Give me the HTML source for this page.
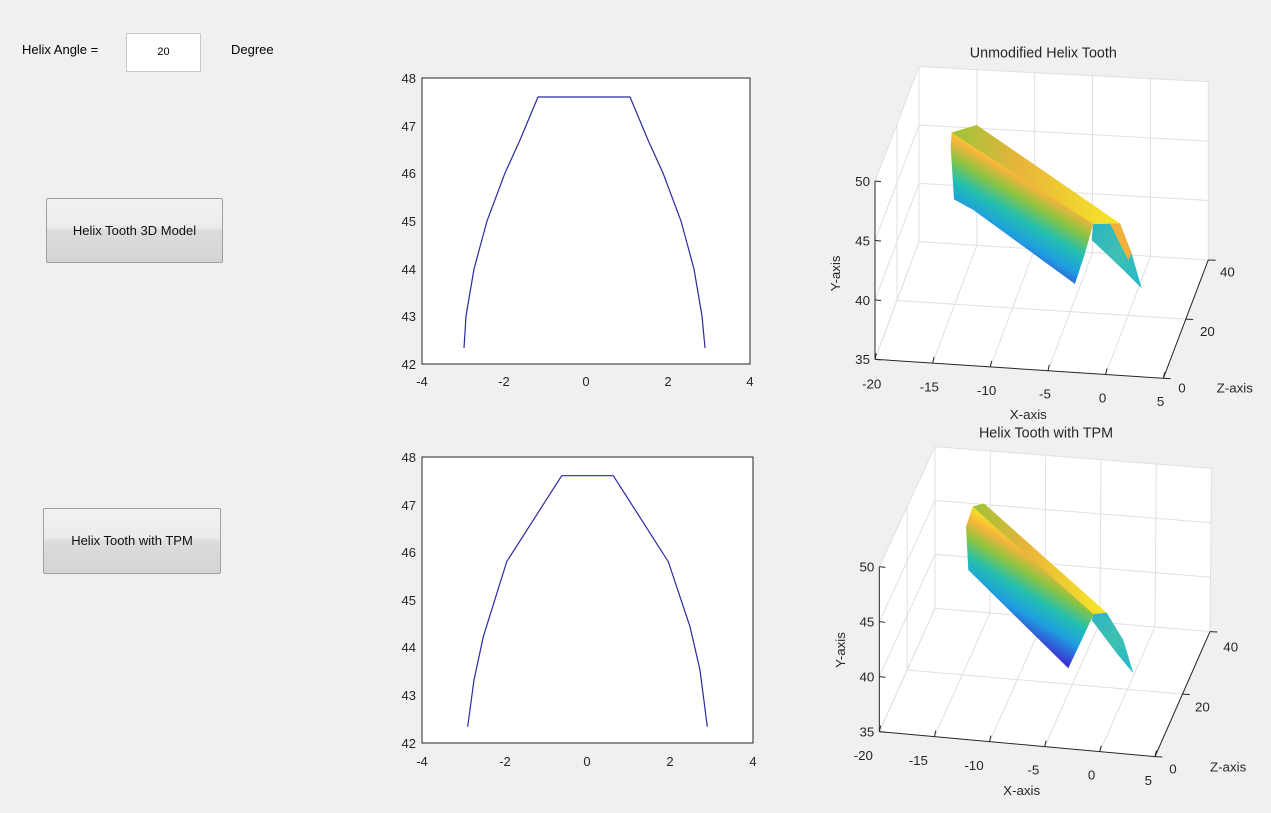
<!DOCTYPE html>
<html><head><meta charset="utf-8"><style>
body{margin:0;background:#f0f0f0;width:1271px;height:813px;overflow:hidden;font-family:"Liberation Sans",sans-serif;}
.t{position:absolute;font-size:13px;color:#000;}
.btn{position:absolute;border:1px solid #a0a0a0;border-radius:2px;background:linear-gradient(#f2f2f2 0%,#ececec 45%,#dcdcdc 50%,#d4d4d4 100%);font-size:13px;text-align:center;color:#111;}
</style></head><body>
<div class="t" style="left:22px;top:42px;">Helix Angle =</div>
<div style="position:absolute;left:126px;top:33px;width:73px;height:37px;background:#fff;border:1px solid #c8c8c8;font-size:11px;text-align:center;line-height:37px;">20</div>
<div class="t" style="left:231px;top:42px;">Degree</div>
<div class="btn" style="left:46px;top:198px;width:175px;height:63px;line-height:63px;">Helix Tooth 3D Model</div>
<div class="btn" style="left:43px;top:508px;width:176px;height:64px;line-height:64px;">Helix Tooth with TPM</div>
<svg id="s" width="1271" height="813" style="position:absolute;left:0;top:0" xmlns="http://www.w3.org/2000/svg" font-family="Liberation Sans, sans-serif">
<defs>
<linearGradient id="g1" gradientUnits="userSpaceOnUse" x1="500" y1="640" x2="640" y2="400">
<stop offset="0" stop-color="#3a2fd0"/><stop offset="0.25" stop-color="#1f9ee0"/><stop offset="0.45" stop-color="#22bfb0"/><stop offset="0.65" stop-color="#8cc440"/><stop offset="0.82" stop-color="#f4b43c"/><stop offset="1" stop-color="#f8f020"/></linearGradient>
<linearGradient id="g2" gradientUnits="userSpaceOnUse" x1="520" y1="620" x2="660" y2="390">
<stop offset="0" stop-color="#3a2fd0"/><stop offset="0.25" stop-color="#1f9ee0"/><stop offset="0.45" stop-color="#22bfb0"/><stop offset="0.65" stop-color="#8cc440"/><stop offset="0.82" stop-color="#f4b43c"/><stop offset="1" stop-color="#f8f020"/></linearGradient>
<linearGradient id="gt" x1="0" y1="0" x2="1" y2="0">
<stop offset="0" stop-color="#9cc43a"/><stop offset="0.4" stop-color="#e8b43a"/><stop offset="1" stop-color="#f6e828"/></linearGradient>
<linearGradient id="gr" x1="0" y1="0" x2="1" y2="1">
<stop offset="0" stop-color="#2ab4c4"/><stop offset="0.5" stop-color="#3fc0b0"/><stop offset="1" stop-color="#20b8d0"/></linearGradient>
</defs>
<rect x="422" y="78" width="328" height="286" fill="#fff" stroke="#262626" stroke-width="1"/>
<polyline fill="none" stroke="#2a2aa0" stroke-width="1.2" points="464,348 466,316 474,269 487,221 505,173 520,140 538,97 630,97 648,140 663,173 681,221 694,269 702,316 705,348"/>
<g font-size="13" fill="#262626" text-anchor="end">
<text x="416" y="83">48</text><text x="416" y="131">47</text><text x="416" y="178">46</text><text x="416" y="226">45</text><text x="416" y="274">44</text><text x="416" y="321">43</text><text x="416" y="369">42</text></g>
<g font-size="13" fill="#262626" text-anchor="middle">
<text x="422" y="386">-4</text><text x="504" y="386">-2</text><text x="586" y="386">0</text><text x="668" y="386">2</text><text x="750" y="386">4</text></g>
<rect x="422" y="457" width="331" height="286" fill="#fff" stroke="#262626" stroke-width="1"/>
<polyline fill="none" stroke="#2a2aa0" stroke-width="1.2" points="467.7,726.7 474,680 483.3,636.7 506.7,561.7 561.7,475.7 613.3,475.7 668.3,561.7 690,626.7 700,670 707.3,726.7"/>
<g font-size="13" fill="#262626" text-anchor="end">
<text x="416" y="462">48</text><text x="416" y="510">47</text><text x="416" y="557">46</text><text x="416" y="605">45</text><text x="416" y="652">44</text><text x="416" y="700">43</text><text x="416" y="748">42</text></g>
<g font-size="13" fill="#262626" text-anchor="middle">
<text x="422" y="766">-4</text><text x="505" y="766">-2</text><text x="587" y="766">0</text><text x="670" y="766">2</text><text x="753" y="766">4</text></g>
<g id="p1" transform="translate(830,40) scale(0.3333)"></g>
<g id="p2" transform="translate(830,420) scale(0.3333)"></g>
</svg>
<script>
function L(a,b,t){return [a[0]+(b[0]-a[0])*t,a[1]+(b[1]-a[1])*t];}
function ln(g,a,b,c,w){g.insertAdjacentHTML('beforeend','<line x1="'+a[0]+'" y1="'+a[1]+'" x2="'+b[0]+'" y2="'+b[1]+'" stroke="'+c+'" stroke-width="'+w+'"/>');}
function plot(id,P,surf,labels){
 var g=document.getElementById(id);
 var FLB=P[0],FRB=P[1],BLB=P[2],BRB=P[3],FLT=P[4],BLT=P[5],BRT=P[6];
 g.insertAdjacentHTML('beforeend','<polygon fill="#fff" points="'+[BLB,BRB,BRT,BLT].join(' ')+'"/>');
 g.insertAdjacentHTML('beforeend','<polygon fill="#fff" points="'+[FLB,BLB,BLT,FLT].join(' ')+'"/>');
 g.insertAdjacentHTML('beforeend','<polygon fill="#fff" points="'+[FLB,FRB,BRB,BLB].join(' ')+'"/>');
 var gc='#e0e0e0',w=3;
 for(var i=0;i<=5;i++){ln(g,L(BLB,BRB,i/5),L(BLT,BRT,i/5),gc,w);ln(g,L(FLB,FRB,i/5),L(BLB,BRB,i/5),gc,w);}
 for(var j=0;j<=3;j++){ln(g,L(BLB,BLT,j/3),L(BRB,BRT,j/3),gc,w);ln(g,L(FLB,FLT,j/3),L(BLB,BLT,j/3),gc,w);}
 ln(g,L(FLB,BLB,.5),L(FLT,BLT,.5),gc,w);ln(g,L(FLB,BLB,.5),L(FRB,BRB,.5),gc,w);
 ln(g,FLB,FLT,'#262626',3);ln(g,FLB,FRB,'#262626',3);ln(g,FRB,BRB,'#262626',3);
 for(var i=0;i<=5;i++){var p=L(FLB,FRB,i/5);ln(g,p,[p[0]+4,p[1]-18],'#262626',3);}
 for(var j=0;j<=3;j++){var p=L(FLB,FLT,j/3);ln(g,p,[p[0]+18,p[1]+2],'#262626',3);}
 for(var k=0;k<=2;k++){var p=L(FRB,BRB,k/2);ln(g,p,[p[0]+22,p[1]+1],'#262626',3);}
 g.insertAdjacentHTML('beforeend',surf+labels);
}
plot('p1',[[135,958],[1000,1015],[267,605],[1135,660],[135,423],[267,80],[1135,125]],
'<polygon fill="url(#gr)" points="790,552 870,550 905,640 935,745 880,690 785,600"/>'+
'<polygon fill="url(#g1)" points="365,278 440,255 850,540 790,552 765,640 735,732 430,510 372,478 362,320"/>'+
'<polygon fill="url(#gt)" points="365,278 440,255 870,550 790,552"/>'+
'<polygon fill="#f0b03a" points="840,551 870,550 905,640 895,660"/>',
'<g font-size="40" fill="#262626"><text x="120" y="972" text-anchor="end">35</text><text x="120" y="795" text-anchor="end">40</text><text x="120" y="616" text-anchor="end">45</text><text x="120" y="438" text-anchor="end">50</text>'+
'<text x="125" y="1045" text-anchor="middle">-20</text><text x="298" y="1055" text-anchor="middle">-15</text><text x="470" y="1065" text-anchor="middle">-10</text><text x="645" y="1075" text-anchor="middle">-5</text><text x="818" y="1088" text-anchor="middle">0</text><text x="992" y="1098" text-anchor="middle">5</text>'+
'<text x="1045" y="1058">0</text><text x="1110" y="888">20</text><text x="1170" y="710">40</text>'+
'<text x="595" y="1137" text-anchor="middle">X-axis</text><text x="1160" y="1058">Z-axis</text>'+
'<text x="30" y="700" text-anchor="middle" transform="rotate(-90 30 700)">Y-axis</text>'+
'<text x="640" y="52" text-anchor="middle" font-size="43">Unmodified Helix Tooth</text></g>');
plot('p2',[[148,935],[975,1010],[315,565],[1140,635],[148,440],[315,80],[1145,145]],
'<polygon fill="url(#gr)" points="790,582 830,578 880,660 910,760 860,700 785,600"/>'+
'<polygon fill="url(#g2)" points="428,260 462,250 815,570 790,585 760,650 715,745 415,450 408,320"/>'+
'<polygon fill="url(#gt)" points="428,260 462,250 830,578 790,582"/>',
'<g font-size="40" fill="#262626"><text x="133" y="950" text-anchor="end">35</text><text x="133" y="785" text-anchor="end">40</text><text x="133" y="620" text-anchor="end">45</text><text x="133" y="455" text-anchor="end">50</text>'+
'<text x="100" y="1020" text-anchor="middle">-20</text><text x="265" y="1035" text-anchor="middle">-15</text><text x="432" y="1050" text-anchor="middle">-10</text><text x="610" y="1063" text-anchor="middle">-5</text><text x="785" y="1078" text-anchor="middle">0</text><text x="955" y="1095" text-anchor="middle">5</text>'+
'<text x="1018" y="1060">0</text><text x="1095" y="875">20</text><text x="1180" y="695">40</text>'+
'<text x="575" y="1125" text-anchor="middle">X-axis</text><text x="1140" y="1055">Z-axis</text>'+
'<text x="45" y="690" text-anchor="middle" transform="rotate(-90 45 690)">Y-axis</text>'+
'<text x="648" y="52" text-anchor="middle" font-size="43">Helix Tooth with TPM</text></g>');
</script>
</body></html>
